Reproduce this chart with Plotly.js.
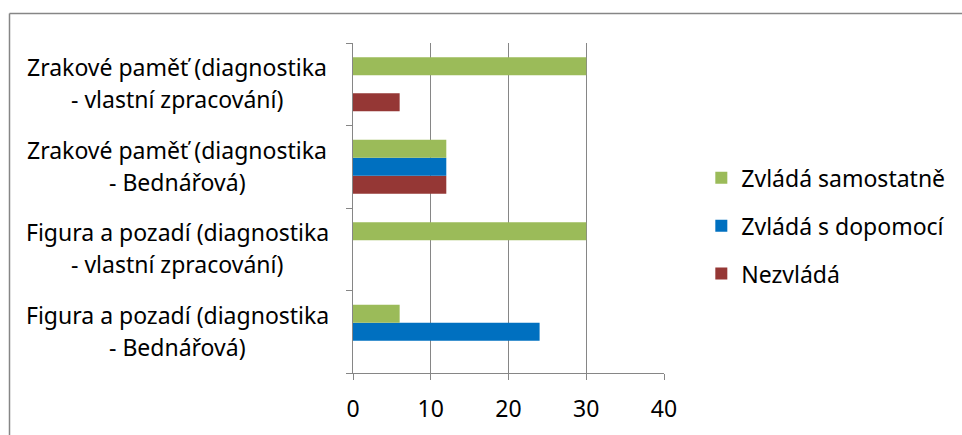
<!DOCTYPE html>
<html>
<head>
<meta charset="utf-8">
<script src="https://cdn.plot.ly/plotly-3.0.1.min.js"></script>
<style>
html,body{margin:0;padding:0;background:#fff;}
#chart{width:962px;height:435px;}
</style>
</head>
<body>
<div id="chart"></div>
<script>
// Categories (bottom to top), each as two text lines
const categories = [
  "Figura a pozadí (diagnostika - Bednářová)",
  "Figura a pozadí (diagnostika - vlastní zpracování)",
  "Zrakové paměť (diagnostika - Bednářová)",
  "Zrakové paměť (diagnostika - vlastní zpracování)"
];
const categoryLines = [
  ["Figura a pozadí (diagnostika", "- Bednářová)"],
  ["Figura a pozadí (diagnostika", "- vlastní zpracování)"],
  ["Zrakové paměť (diagnostika", "- Bednářová)"],
  ["Zrakové paměť (diagnostika", "- vlastní zpracování)"]
];
const seriesNames = ["Zvládá samostatně", "Zvládá s dopomocí", "Nezvládá"];
const samostatne = [6, 30, 12, 30];
const sDopomoci = [24, 0, 12, 0];
const nezvlada = [0, 0, 12, 6];
const xTicks = [0, 10, 20, 30, 40];

const colors = ["#9BBB59", "#0070C0", "#953735"];
const values = [samostatne, sDopomoci, nezvlada];

const FONT = "Noto Sans, Open Sans, sans-serif";
const fs = 23;

// Plotly puts first trace lowest in a horizontal group; reverse so green is on top
const traces = [];
for (let i = values.length - 1; i >= 0; i--) {
  traces.push({
    type: "bar",
    orientation: "h",
    name: seriesNames[i],
    x: values[i],
    y: categories,
    legendgroup: "g" + i,
    legendrank: i + 1,
    marker: {color: colors[i], line: {width: 0}},
    hoverinfo: "x+name"
  });
}

const annotations = [];
categoryLines.forEach((lines, k) => {
  lines.forEach((t, j) => {
    annotations.push({
      xref: "paper", yref: "y",
      x: (177 - 353) / 311, y: categories[k],
      xanchor: "center", yanchor: "middle",
      text: t, showarrow: false,
      yshift: j === 0 ? 17 : -15,
      font: {family: FONT, size: fs, color: "#000"}
    });
  });
});

const gray = "#868686";
const layout = {
  width: 962, height: 435,
  margin: {l: 353, r: 298, t: 43, b: 62, pad: 0},
  paper_bgcolor: "#fff", plot_bgcolor: "#fff",
  barmode: "group",
  bargap: 0.345,
  bargroupgap: 0,
  showlegend: true,
  legend: {
    x: 1.12, xanchor: "left",
    y: 0.446, yanchor: "middle",
    traceorder: "grouped",
    tracegroupgap: 15,
    font: {family: FONT, size: fs, color: "#000"},
    bgcolor: "rgba(0,0,0,0)"
  },
  xaxis: {
    range: [0, 40],
    tickvals: xTicks,
    ticktext: xTicks.map(String),
    showgrid: true, gridcolor: gray, gridwidth: 1,
    zeroline: false,
    showline: true, linecolor: gray, linewidth: 1,
    ticks: "outside", ticklen: 6, tickcolor: gray,
    ticklabelstandoff: 9,
    tickfont: {family: FONT, size: fs, color: "#000"},
    fixedrange: true
  },
  yaxis: {
    type: "category",
    categoryorder: "array",
    categoryarray: categories,
    showticklabels: false,
    tickson: "boundaries",
    ticks: "outside", ticklen: 6, tickcolor: gray,
    showgrid: false, zeroline: false,
    showline: true, linecolor: gray, linewidth: 1,
    fixedrange: true
  },
  annotations: annotations,
  shapes: [
    {type: "line", xref: "paper", yref: "paper",
     x0: (9.5 - 353) / 311, x1: (975 - 353) / 311,
     y0: (373 - 13.5) / 330, y1: (373 - 13.5) / 330,
     line: {color: gray, width: 1.5}},
    {type: "line", xref: "paper", yref: "paper",
     x0: (9.5 - 353) / 311, x1: (9.5 - 353) / 311,
     y0: (373 - 13.5) / 330, y1: (373 - 445) / 330,
     line: {color: gray, width: 1.5}}
  ]
};

Plotly.newPlot("chart", traces, layout, {displayModeBar: false, staticPlot: true});
</script>
</body>
</html>
